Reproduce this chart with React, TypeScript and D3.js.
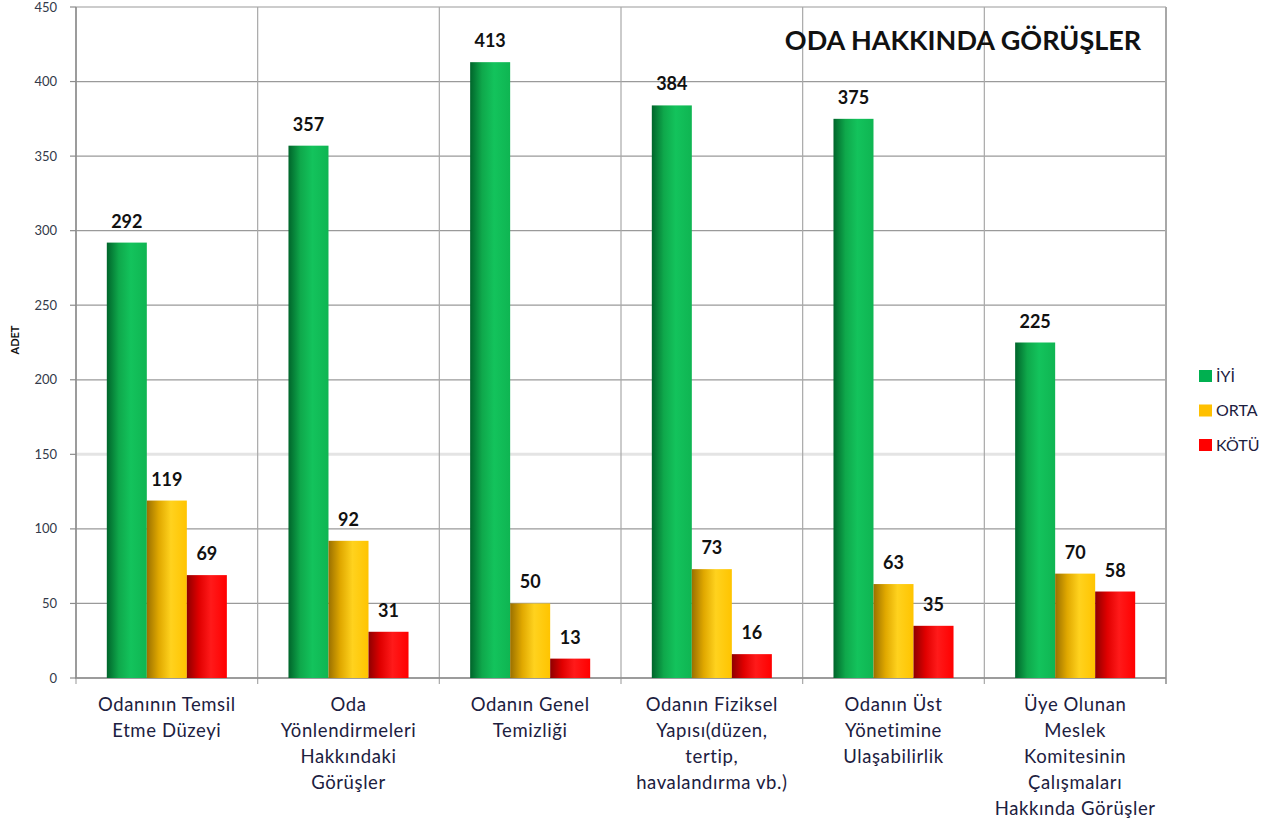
import React from "react";
import * as d3 from "d3";

const categories: string[][] = [
  ["Odanının Temsil", "Etme Düzeyi"],
  ["Oda", "Yönlendirmeleri", "Hakkındaki", "Görüşler"],
  ["Odanın Genel", "Temizliği"],
  ["Odanın Fiziksel", "Yapısı(düzen,", "tertip,", "havalandırma vb.)"],
  ["Odanın Üst", "Yönetimine", "Ulaşabilirlik"],
  ["Üye Olunan", "Meslek", "Komitesinin", "Çalışmaları", "Hakkında Görüşler"],
];
const seriesNames = ["İYİ", "ORTA", "KÖTÜ"];
const iyi = [292, 357, 413, 384, 375, 225];
const orta = [119, 92, 50, 73, 63, 70];
const kotu = [69, 31, 13, 16, 35, 58];
const yTicks = [0, 50, 100, 150, 200, 250, 300, 350, 400, 450];
const title = "ODA HAKKINDA GÖRÜŞLER";
const yTitle = "ADET";

const seriesValues = [iyi, orta, kotu];
const grads = [
  ["#00652b", "#0fa84b", "#13c35c", "#0fb552"],
  ["#9a7000", "#e0a800", "#ffd21e", "#ffc400"],
  ["#8e0000", "#e00000", "#ff1a1a", "#ff0000"],
];
const legendColors = ["#00b050", "#ffc000", "#ff0000"];

export default function App() {
  const W = 1273, H = 825;
  const left = 76, right = 1166, top = 7, bottom = 678;
  const font = "Lato, 'Open Sans', sans-serif";
  const textColor = "#1c2040";

  const x0 = d3.scaleBand<number>().domain(d3.range(categories.length)).range([left, right]).padding(0);
  const x1 = d3.scaleBand<number>().domain(d3.range(seriesNames.length)).range([0, x0.bandwidth()]).paddingInner(0).paddingOuter(0.77);
  const y = d3.scaleLinear().domain([0, 450]).range([bottom, top]);

  return (
    <svg width={W} height={H} style={{ position: "absolute", left: 0, top: 0, background: "#fff" }}>
      <defs>
        {grads.map((g, i) => (
          <linearGradient key={i} id={`g${i}`} x1="0" x2="1" y1="0" y2="0">
            <stop offset="0" stopColor={g[0]} />
            <stop offset="0.3" stopColor={g[1]} />
            <stop offset="0.6" stopColor={g[2]} />
            <stop offset="1" stopColor={g[3]} />
          </linearGradient>
        ))}
      </defs>
      {yTicks.map((t) => (
        <line key={t} x1={left} x2={right} y1={y(t)} y2={y(t)}
          stroke={t === 150 ? "#e4e4e4" : "#9a9a9a"} strokeWidth={t === 150 ? 3 : 1.2} />
      ))}
      {d3.range(categories.length + 1).map((i) => {
        const xx = i < categories.length ? x0(i)! : right;
        return <line key={i} x1={xx} x2={xx} y1={top} y2={bottom + 6} stroke="#a8a8a8" strokeWidth={i === categories.length ? 2 : 1.2} />;
      })}
      <line x1={left} x2={left} y1={top} y2={bottom} stroke="#8c8c8c" strokeWidth={1.5} />
      <line x1={left - 1} x2={right} y1={bottom} y2={bottom} stroke="#8c8c8c" strokeWidth={1.5} />
      {yTicks.map((t) => (
        <g key={t}>
          <line x1={left - 6} x2={left} y1={y(t)} y2={y(t)} stroke="#8c8c8c" strokeWidth={1.2} />
          <text x={57} y={y(t)} dy="0.35em" textAnchor="end" fontFamily={font} fontSize={13} fill="#333a4a">{t}</text>
        </g>
      ))}
      <text transform={`translate(19,${340}) rotate(-90)`} textAnchor="middle" fontFamily={font} fontSize={11} fontWeight="bold" fill="#111">{yTitle}</text>
      {categories.map((_, ci) => (
        <g key={ci} transform={`translate(${x0(ci)},0)`}>
          {seriesValues.map((vals, si) => (
            <g key={si}>
              <rect x={x1(si)} y={y(vals[ci])} width={x1.bandwidth()} height={bottom - y(vals[ci])} fill={`url(#g${si})`} />
              <text x={x1(si)! + x1.bandwidth() / 2} y={y(vals[ci]) - 15} textAnchor="middle" fontFamily={font} fontSize={18} fontWeight="bold" fill="#111">{vals[ci]}</text>
            </g>
          ))}
          {categories[ci].map((line, li) => (
            <text key={li} x={x0.bandwidth() / 2} y={711 + li * 26} textAnchor="middle" fontFamily={font} fontSize={18.5} letterSpacing={0.6} fill={textColor}>{line}</text>
          ))}
        </g>
      ))}
      <text x={963} y={50} textAnchor="middle" fontFamily={font} fontSize={27} fontWeight="bold" fill="#111">{title}</text>
      {seriesNames.map((s, i) => (
        <g key={s} transform={`translate(1199,${376 + i * 34.5})`}>
          <rect x={0} y={-6} width={13} height={12} fill={legendColors[i]} />
          <text x={17} y={0} dy="0.35em" fontFamily={font} fontSize={16} fill={textColor}>{s}</text>
        </g>
      ))}
    </svg>
  );
}
